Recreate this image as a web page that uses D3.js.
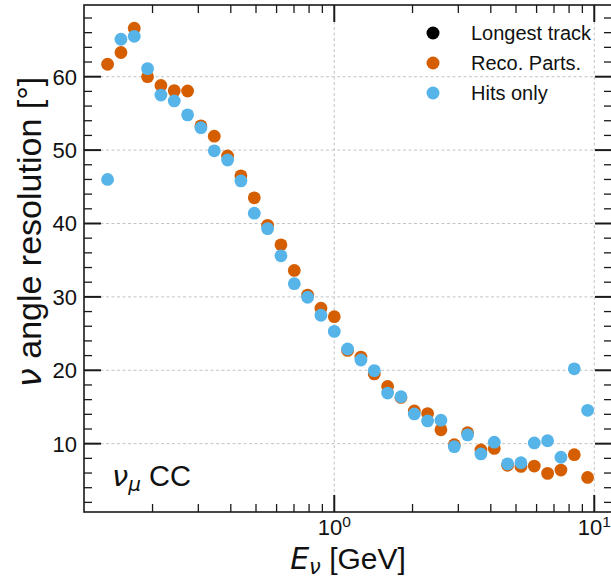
<!DOCTYPE html>
<html>
<head>
<meta charset="utf-8">
<script src="https://cdn.jsdelivr.net/npm/d3@7"></script>
<style>
  body { margin: 0; background: #fff; }
  svg { display: block; }
</style>
</head>
<body>
<script>
/* -----------------------------------------------------
 *  Data
 ----------------------------------------------------- */
const energies = [
  0.1343, 0.1512, 0.1701, 0.1914, 0.2154, 0.2424, 0.2728, 0.307, 0.3455,
  0.3888, 0.4375, 0.4924, 0.5541, 0.6236, 0.7017, 0.7897, 0.8886, 1.0,
  1.1253, 1.2664, 1.4251, 1.6037, 1.8047, 2.0309, 2.2855, 2.5719, 2.8943,
  3.257, 3.6653, 4.1246, 4.6416, 5.2233, 5.878, 6.6147, 7.4438, 8.3768,
  9.4267,
];
const recoParts = [
  61.7, 63.3, 66.6, 60.0, 58.8, 58.1, 58.05, 53.3, 51.9, 49.2, 46.5, 43.5,
  39.75, 37.1, 33.6, 30.25, 28.45, 27.3, 22.7, 21.8, 19.5, 17.8, 16.3, 14.45,
  14.1, 11.9, 9.85, 11.5, 9.15, 9.35, 7.05, 6.9, 6.95, 5.95, 6.4, 8.5, 5.4,
];
const hitsOnly = [
  46.0, 65.1, 65.5, 61.1, 57.5, 56.7, 54.8, 53.05, 49.9, 48.65, 45.8, 41.4,
  39.3, 35.6, 31.8, 29.95, 27.5, 25.3, 22.9, 21.4, 19.95, 16.9, 16.4, 14.05,
  13.1, 13.2, 9.6, 11.2, 8.6, 10.2, 7.25, 7.4, 10.1, 10.4, 8.15, 20.2, 14.55,
];
const seriesNames = ["Longest track", "Reco. Parts.", "Hits only"];
const seriesColors = ["#000000", "#d55e00", "#56b4e9"];

const yMajor = [10, 20, 30, 40, 50, 60];
const xMajor = [1, 10];
const xMajorExp = ["0", "1"];

/* -----------------------------------------------------
 *  Initial SVG setup
 ----------------------------------------------------- */
const width = 611;
const height = 580;
const plotLeft = 84, plotRight = 612, plotTop = 5, plotBottom = 512;
const textFont = "'Liberation Sans', Arial, sans-serif";
const mathFont = "'DejaVu Sans', sans-serif";
const ink = "#1a1a1a";

const svg = d3
  .select("body")
  .append("svg")
  .attr("width", width)
  .attr("height", height);

const x = d3.scaleLog().domain([0.109, 11.7]).range([plotLeft, plotRight]);
const y = d3.scaleLinear().domain([0.69, 69.77]).range([plotBottom, plotTop]);

/* -----------------------------------------------------
 *  Grid
 ----------------------------------------------------- */
svg
  .selectAll(".ygrid")
  .data(yMajor)
  .enter()
  .append("line")
  .attr("x1", plotLeft)
  .attr("x2", plotRight)
  .attr("y1", (d) => y(d))
  .attr("y2", (d) => y(d))
  .attr("stroke", "#c4c4c4")
  .attr("stroke-width", 1)
  .attr("stroke-dasharray", "3,2.5");

svg
  .selectAll(".xgrid")
  .data(xMajor)
  .enter()
  .append("line")
  .attr("x1", (d) => x(d))
  .attr("x2", (d) => x(d))
  .attr("y1", plotTop)
  .attr("y2", plotBottom)
  .attr("stroke", "#c4c4c4")
  .attr("stroke-width", 1)
  .attr("stroke-dasharray", "3,2.5");

/* -----------------------------------------------------
 *  Points (orange below, blue on top)
 ----------------------------------------------------- */
[recoParts, hitsOnly].forEach((values, i) => {
  svg
    .append("g")
    .selectAll("circle")
    .data(values)
    .enter()
    .append("circle")
    .attr("cx", (d, j) => x(energies[j]))
    .attr("cy", (d) => y(d))
    .attr("r", 6.4)
    .attr("fill", seriesColors[i + 1]);
});

/* -----------------------------------------------------
 *  Axes: ticks point inward on all four sides
 ----------------------------------------------------- */
const yMinor = d3.range(2, 70, 2).filter((d) => d % 10 !== 0);
const xMinor = [0.2, 0.3, 0.4, 0.5, 0.6, 0.7, 0.8, 0.9, 2, 3, 4, 5, 6, 7, 8, 9];

function yTicks(values, len, w) {
  [[plotLeft, 1], [plotRight, -1]].forEach(([x0, dir]) => {
    svg
      .append("g")
      .selectAll("line")
      .data(values)
      .enter()
      .append("line")
      .attr("x1", x0)
      .attr("x2", x0 + dir * len)
      .attr("y1", (d) => y(d))
      .attr("y2", (d) => y(d))
      .attr("stroke", ink)
      .attr("stroke-width", w);
  });
}
function xTicks(values, len, w) {
  [[plotBottom, -1], [plotTop, 1]].forEach(([y0, dir]) => {
    svg
      .append("g")
      .selectAll("line")
      .data(values)
      .enter()
      .append("line")
      .attr("y1", y0)
      .attr("y2", y0 + dir * len)
      .attr("x1", (d) => x(d))
      .attr("x2", (d) => x(d))
      .attr("stroke", ink)
      .attr("stroke-width", w);
  });
}
yTicks(yMajor, 17, 2);
yTicks(yMinor, 8, 1.3);
xTicks(xMajor, 17, 2);
xTicks(xMinor, 8, 1.3);

svg
  .append("rect")
  .attr("x", plotLeft)
  .attr("y", plotTop)
  .attr("width", plotRight - plotLeft)
  .attr("height", plotBottom - plotTop)
  .attr("fill", "none")
  .attr("stroke", ink)
  .attr("stroke-width", 1.6);

// tick labels
svg
  .selectAll(".ylab")
  .data(yMajor)
  .enter()
  .append("text")
  .attr("x", 77)
  .attr("y", (d) => y(d))
  .attr("dy", "0.36em")
  .attr("text-anchor", "end")
  .style("font-family", textFont)
  .style("font-size", "22px")
  .attr("fill", "#111")
  .text((d) => d);

const xLabels = svg
  .selectAll(".xlab")
  .data(xMajor)
  .enter()
  .append("text")
  .attr("x", (d) => x(d))
  .attr("y", 535)
  .attr("text-anchor", "middle")
  .style("font-family", textFont)
  .style("font-size", "22px")
  .attr("fill", "#111");
xLabels.append("tspan").text("10");
xLabels
  .append("tspan")
  .attr("dy", -8)
  .style("font-size", "15.5px")
  .text((d, i) => xMajorExp[i]);

/* -----------------------------------------------------
 *  Axis titles
 ----------------------------------------------------- */
const yTitle = svg
  .append("text")
  .attr("transform", "translate(41,232) rotate(-90)")
  .attr("text-anchor", "middle")
  .style("font-family", textFont)
  .style("font-size", "34px")
  .attr("fill", "#111");
yTitle
  .append("tspan")
  .style("font-family", mathFont)
  .style("font-style", "italic")
  .text("ν");
yTitle.append("tspan").text(" angle resolution [°]");

const xTitle = svg
  .append("text")
  .attr("x", 348)
  .attr("y", 569)
  .attr("text-anchor", "middle")
  .style("font-family", textFont)
  .style("font-size", "30px")
  .attr("fill", "#111");
xTitle
  .append("tspan")
  .style("font-family", mathFont)
  .style("font-style", "italic")
  .text("E");
xTitle
  .append("tspan")
  .attr("dy", 5)
  .style("font-family", mathFont)
  .style("font-style", "italic")
  .style("font-size", "21px")
  .text("ν");
xTitle.append("tspan").attr("dy", -5).text(" [GeV]");

// channel annotation
const note = svg
  .append("text")
  .attr("x", 112)
  .attr("y", 486)
  .style("font-family", textFont)
  .style("font-size", "29px")
  .attr("fill", "#111");
note
  .append("tspan")
  .style("font-family", mathFont)
  .style("font-style", "italic")
  .text("ν");
note
  .append("tspan")
  .attr("dy", 5)
  .style("font-family", mathFont)
  .style("font-style", "italic")
  .style("font-size", "20px")
  .text("μ");
note.append("tspan").attr("dy", -5).text(" CC");

/* -----------------------------------------------------
 *  Legend
 ----------------------------------------------------- */
const legend = svg
  .selectAll(".legend")
  .data(seriesNames)
  .enter()
  .append("g")
  .attr("transform", (d, i) => `translate(433,${33 + i * 30})`);
legend
  .append("circle")
  .attr("r", 6.5)
  .attr("fill", (d, i) => seriesColors[i]);
legend
  .append("text")
  .attr("x", 38)
  .attr("dy", "0.36em")
  .style("font-family", textFont)
  .style("font-size", "20px")
  .attr("fill", "#111")
  .text((d) => d);
</script>
</body>
</html>
